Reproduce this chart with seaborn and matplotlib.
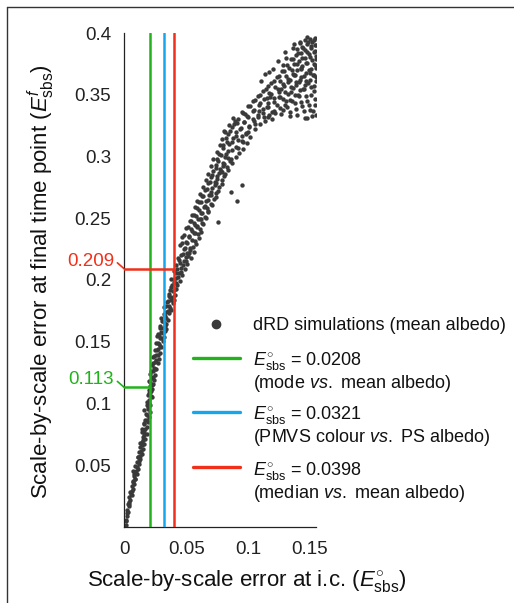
import matplotlib
matplotlib.use("Agg")
import matplotlib.pyplot as plt
from matplotlib.lines import Line2D
import pandas as pd
import seaborn as sns

sns.set_style("white")
plt.rcParams["font.family"] = ["Liberation Sans", "DejaVu Sans"]
plt.rcParams["mathtext.fontset"] = "custom"
plt.rcParams["mathtext.rm"] = "Liberation Sans"
plt.rcParams["mathtext.it"] = "Liberation Sans:italic"
plt.rcParams["mathtext.bf"] = "Liberation Sans:bold"

# dRD simulations, (error at i.c., error at final time point)
sim_xy = [
    (0.001, 0.002), (0.001, 0.006), (0.002, 0.009), (0.003, 0.012), (0.002, 0.014),
    (0.004, 0.017), (0.003, 0.019), (0.005, 0.022), (0.004, 0.024), (0.006, 0.026),
    (0.005, 0.028), (0.007, 0.031), (0.006, 0.033), (0.008, 0.035), (0.007, 0.037),
    (0.009, 0.039), (0.008, 0.041), (0.010, 0.043), (0.007, 0.045), (0.011, 0.047),
    (0.009, 0.049), (0.012, 0.051), (0.010, 0.053), (0.013, 0.055), (0.011, 0.057),
    (0.014, 0.059), (0.012, 0.061), (0.015, 0.063), (0.013, 0.065), (0.016, 0.067),
    (0.014, 0.069), (0.017, 0.071), (0.015, 0.073), (0.018, 0.075), (0.016, 0.077),
    (0.014, 0.079), (0.018, 0.081), (0.016, 0.083), (0.019, 0.085), (0.017, 0.087),
    (0.020, 0.089), (0.018, 0.091), (0.021, 0.093), (0.016, 0.095), (0.019, 0.097),
    (0.021, 0.099), (0.018, 0.101), (0.020, 0.103), (0.022, 0.105), (0.019, 0.107),
    (0.021, 0.109), (0.020, 0.111), (0.022, 0.112), (0.021, 0.114), (0.023, 0.116),
    (0.020, 0.118), (0.024, 0.119), (0.022, 0.121), (0.025, 0.123), (0.021, 0.124),
    (0.023, 0.126), (0.026, 0.128), (0.024, 0.129), (0.022, 0.131), (0.027, 0.133),
    (0.025, 0.134), (0.028, 0.136), (0.023, 0.138), (0.026, 0.139), (0.029, 0.141),
    (0.025, 0.143), (0.027, 0.144), (0.030, 0.146), (0.028, 0.148), (0.026, 0.149),
    (0.031, 0.151), (0.029, 0.153), (0.032, 0.154), (0.027, 0.156), (0.030, 0.158),
    (0.033, 0.159), (0.031, 0.161), (0.029, 0.163), (0.034, 0.164), (0.032, 0.166),
    (0.035, 0.168), (0.030, 0.169), (0.033, 0.171), (0.036, 0.173), (0.034, 0.174),
    (0.038, 0.176), (0.032, 0.178), (0.036, 0.179), (0.039, 0.181), (0.035, 0.183),
    (0.040, 0.184), (0.037, 0.186), (0.041, 0.188), (0.036, 0.189), (0.039, 0.191),
    (0.042, 0.193), (0.038, 0.194), (0.043, 0.196), (0.040, 0.198), (0.045, 0.199),
    (0.038, 0.201), (0.042, 0.202), (0.047, 0.204),
    (0.044, 0.206), (0.040, 0.207), (0.049, 0.209), (0.046, 0.210), (0.042, 0.212),
    (0.051, 0.213), (0.048, 0.215), (0.044, 0.216), (0.054, 0.218), (0.050, 0.219),
    (0.046, 0.220), (0.052, 0.222), (0.056, 0.223), (0.048, 0.225), (0.053, 0.226),
    (0.045, 0.228), (0.058, 0.229), (0.050, 0.231), (0.055, 0.232), (0.060, 0.234),
    (0.047, 0.235), (0.052, 0.236), (0.057, 0.238), (0.062, 0.239), (0.054, 0.241),
    (0.050, 0.242), (0.059, 0.243), (0.064, 0.245), (0.056, 0.246), (0.053, 0.248),
    (0.061, 0.249), (0.066, 0.250), (0.058, 0.252), (0.055, 0.253), (0.063, 0.254),
    (0.068, 0.256), (0.060, 0.257), (0.057, 0.259), (0.065, 0.260), (0.071, 0.261),
    (0.062, 0.263), (0.059, 0.264), (0.068, 0.265), (0.074, 0.267), (0.064, 0.268),
    (0.061, 0.270), (0.070, 0.271), (0.076, 0.272), (0.067, 0.274), (0.064, 0.275),
    (0.073, 0.277), (0.079, 0.278), (0.069, 0.279), (0.066, 0.281), (0.075, 0.282),
    (0.081, 0.284), (0.071, 0.285), (0.068, 0.286), (0.078, 0.288), (0.084, 0.289),
    (0.074, 0.291), (0.070, 0.292), (0.081, 0.294), (0.087, 0.295), (0.076, 0.296),
    (0.072, 0.298), (0.084, 0.299), (0.090, 0.300),
    (0.091, 0.264), (0.095, 0.277), (0.076, 0.247), (0.086, 0.298), (0.080, 0.292),
    (0.078, 0.301), (0.082, 0.302), (0.093, 0.303), (0.075, 0.304), (0.087, 0.305),
    (0.096, 0.306), (0.080, 0.307), (0.090, 0.308), (0.077, 0.309), (0.085, 0.310),
    (0.099, 0.311), (0.083, 0.312), (0.092, 0.313), (0.079, 0.314), (0.088, 0.315),
    (0.102, 0.316), (0.095, 0.317), (0.084, 0.318), (0.098, 0.319), (0.090, 0.320),
    (0.081, 0.321), (0.106, 0.322), (0.094, 0.323), (0.087, 0.324), (0.101, 0.325),
    (0.110, 0.326), (0.091, 0.327), (0.097, 0.328), (0.114, 0.329), (0.104, 0.330),
    (0.088, 0.331), (0.108, 0.332), (0.099, 0.333), (0.117, 0.334), (0.112, 0.335),
    (0.095, 0.336), (0.121, 0.337), (0.105, 0.338), (0.126, 0.339), (0.116, 0.340),
    (0.100, 0.341), (0.130, 0.342), (0.110, 0.343), (0.121, 0.344), (0.104, 0.345),
    (0.134, 0.346), (0.115, 0.347), (0.126, 0.348), (0.108, 0.349), (0.138, 0.350),
    (0.119, 0.351), (0.130, 0.352), (0.112, 0.353), (0.142, 0.354), (0.124, 0.355),
    (0.135, 0.356), (0.116, 0.357), (0.146, 0.358), (0.128, 0.359), (0.139, 0.360),
    (0.121, 0.361), (0.150, 0.362), (0.132, 0.363), (0.143, 0.364), (0.125, 0.365),
    (0.153, 0.366), (0.136, 0.367), (0.147, 0.368), (0.129, 0.369), (0.140, 0.370),
    (0.151, 0.371), (0.133, 0.372), (0.144, 0.373), (0.154, 0.374), (0.137, 0.375),
    (0.148, 0.376), (0.141, 0.377), (0.152, 0.378), (0.135, 0.379), (0.146, 0.380),
    (0.155, 0.381), (0.139, 0.382), (0.149, 0.383), (0.143, 0.384), (0.153, 0.385),
    (0.146, 0.386), (0.140, 0.387), (0.151, 0.388), (0.144, 0.389), (0.154, 0.390),
    (0.148, 0.391), (0.142, 0.392), (0.152, 0.393), (0.146, 0.394), (0.150, 0.395),
    (0.154, 0.396), (0.148, 0.397),
    (0.122, 0.335), (0.128, 0.338), (0.134, 0.336), (0.140, 0.334), (0.146, 0.331),
    (0.152, 0.333), (0.150, 0.338), (0.144, 0.341), (0.138, 0.343), (0.131, 0.345),
    (0.125, 0.348), (0.148, 0.345), (0.154, 0.342), (0.141, 0.349), (0.135, 0.352),
    (0.151, 0.350), (0.145, 0.355), (0.139, 0.358), (0.153, 0.357), (0.147, 0.361),
    (0.155, 0.364), (0.150, 0.368), (0.143, 0.372), (0.115, 0.340), (0.118, 0.348),
    (0.127, 0.355), (0.132, 0.360), (0.137, 0.366), (0.142, 0.362), (0.113, 0.332),
    (0.106, 0.326), (0.100, 0.320), (0.109, 0.337), (0.096, 0.312),
    (0.114, 0.367), (0.120, 0.371), (0.128, 0.374), (0.136, 0.388), (0.142, 0.393),
    (0.131, 0.380),
]

# second pass over the same cloud, filling the denser parts
sim_xy_more = [
    (0.0015, 0.0045), (0.0025, 0.0110), (0.0035, 0.0185), (0.0042, 0.0205), (0.0055, 0.0265),
    (0.0062, 0.0295), (0.0068, 0.0362), (0.0085, 0.0385), (0.0078, 0.0427), (0.0093, 0.0452),
    (0.0104, 0.0486), (0.0118, 0.0533), (0.0109, 0.0565), (0.0127, 0.0578), (0.0136, 0.0612),
    (0.0142, 0.0663), (0.0128, 0.0681), (0.0155, 0.0702), (0.0163, 0.0746), (0.0147, 0.0768),
    (0.0171, 0.0795), (0.0158, 0.0842), (0.0183, 0.0868), (0.0176, 0.0915), (0.0192, 0.0958),
    (0.0201, 0.1004), (0.0186, 0.0991), (0.0212, 0.1062), (0.0197, 0.1085),
    (0.0215, 0.1105), (0.0228, 0.1148), (0.0205, 0.1172), (0.0236, 0.1213), (0.0219, 0.1267),
    (0.0247, 0.1281), (0.0233, 0.1325), (0.0258, 0.1352), (0.0242, 0.1384), (0.0273, 0.1395),
    (0.0261, 0.1432), (0.0285, 0.1466), (0.0269, 0.1488), (0.0296, 0.1527), (0.0278, 0.1552),
    (0.0312, 0.1573), (0.0291, 0.1612), (0.0326, 0.1624), (0.0305, 0.1671), (0.0338, 0.1693),
    (0.0318, 0.1725), (0.0352, 0.1748), (0.0335, 0.1786), (0.0367, 0.1772), (0.0344, 0.1825),
    (0.0381, 0.1838), (0.0359, 0.1872), (0.0395, 0.1866), (0.0372, 0.1915), (0.0407, 0.1924),
    (0.0386, 0.1958), (0.0421, 0.1975), (0.0398, 0.2012), (0.0436, 0.2024), (0.0414, 0.2057),
    (0.0455, 0.2063), (0.0263, 0.1545), (0.0341, 0.1607),
    (0.0428, 0.2092), (0.0472, 0.2118), (0.0453, 0.2141), (0.0497, 0.2155), (0.0436, 0.2178),
    (0.0518, 0.2194), (0.0475, 0.2207), (0.0534, 0.2241), (0.0489, 0.2258), (0.0552, 0.2265),
    (0.0508, 0.2296), (0.0463, 0.2303), (0.0575, 0.2318), (0.0527, 0.2345), (0.0486, 0.2368),
    (0.0594, 0.2372), (0.0545, 0.2395), (0.0611, 0.2412), (0.0512, 0.2428), (0.0573, 0.2447),
    (0.0628, 0.2463), (0.0538, 0.2478), (0.0596, 0.2495), (0.0652, 0.2508), (0.0567, 0.2527),
    (0.0617, 0.2545), (0.0674, 0.2552), (0.0589, 0.2583), (0.0642, 0.2591), (0.0698, 0.2612),
    (0.0606, 0.2628), (0.0661, 0.2643), (0.0724, 0.2655), (0.0628, 0.2683), (0.0685, 0.2692),
    (0.0741, 0.2705), (0.0653, 0.2731), (0.0712, 0.2744), (0.0768, 0.2753), (0.0674, 0.2786),
    (0.0731, 0.2797), (0.0789, 0.2812), (0.0697, 0.2834), (0.0752, 0.2845), (0.0815, 0.2862),
    (0.0715, 0.2883), (0.0771, 0.2897), (0.0834, 0.2915), (0.0738, 0.2932), (0.0796, 0.2945),
    (0.0858, 0.2963), (0.0752, 0.2981), (0.0818, 0.2994), (0.0563, 0.2384), (0.0669, 0.2587),
    (0.0704, 0.2688), (0.0764, 0.2866), (0.0587, 0.2436), (0.0505, 0.2215), (0.0623, 0.2496),
    (0.0745, 0.2782), (0.0791, 0.2876), (0.0865, 0.2712),
    (0.0768, 0.3023), (0.0842, 0.3045), (0.0917, 0.3068), (0.0795, 0.3092), (0.0871, 0.3115),
    (0.0948, 0.3124), (0.0823, 0.3148), (0.0903, 0.3167), (0.0981, 0.3182), (0.0858, 0.3205),
    (0.0935, 0.3221), (0.1012, 0.3238), (0.0886, 0.3262), (0.0967, 0.3276), (0.1047, 0.3291),
    (0.0921, 0.3307), (0.1003, 0.3318), (0.1085, 0.3335), (0.1158, 0.3322), (0.0962, 0.3356),
    (0.1042, 0.3371), (0.1124, 0.3384), (0.1196, 0.3362), (0.1265, 0.3347), (0.1018, 0.3412),
    (0.1087, 0.3421), (0.1163, 0.3433), (0.1237, 0.3418), (0.1312, 0.3402), (0.1385, 0.3386),
    (0.1452, 0.3365), (0.1528, 0.3372), (0.1056, 0.3457), (0.1132, 0.3468), (0.1208, 0.3475),
    (0.1283, 0.3462), (0.1357, 0.3447), (0.1426, 0.3438), (0.1497, 0.3421), (0.1545, 0.3465),
    (0.1098, 0.3502), (0.1174, 0.3515), (0.1251, 0.3522), (0.1326, 0.3508), (0.1401, 0.3496),
    (0.1473, 0.3487), (0.1536, 0.3528), (0.1142, 0.3548), (0.1219, 0.3562), (0.1295, 0.3571),
    (0.1368, 0.3556), (0.1442, 0.3545), (0.1511, 0.3563), (0.1187, 0.3596), (0.1262, 0.3608),
    (0.1337, 0.3617), (0.1412, 0.3602), (0.1483, 0.3594), (0.1547, 0.3612), (0.1234, 0.3643),
    (0.1307, 0.3655), (0.1381, 0.3661), (0.1455, 0.3648), (0.1522, 0.3656), (0.1277, 0.3692),
    (0.1352, 0.3703), (0.1425, 0.3711), (0.1496, 0.3697), (0.1549, 0.3718), (0.1318, 0.3741),
    (0.1394, 0.3752), (0.1466, 0.3758), (0.1531, 0.3746), (0.1362, 0.3788), (0.1437, 0.3797),
    (0.1503, 0.3805), (0.1552, 0.3792), (0.1405, 0.3836), (0.1476, 0.3843), (0.1538, 0.3851),
    (0.1447, 0.3882), (0.1512, 0.3891), (0.1548, 0.3903), (0.1489, 0.3927), (0.1532, 0.3945),
    (0.1193, 0.3307), (0.1342, 0.3328), (0.1478, 0.3315), (0.1551, 0.3334),
    (0.1102, 0.3612), (0.1167, 0.3684), (0.1245, 0.3776), (0.1303, 0.3845), (0.1372, 0.3912),
    (0.0812, 0.3198), (0.0893, 0.3284), (0.0978, 0.3341), (0.0845, 0.3257),
]

ic_errors = [0.0208, 0.0321, 0.0398]
ic_colors = ["#22b21c", "#16a6ee", "#f0301a"]
ic_notes = ["(mode $\\mathit{vs.}$ mean albedo)",
            "(PMVS colour $\\mathit{vs.}$ PS albedo)",
            "(median $\\mathit{vs.}$ mean albedo)"]

# final-time errors read where the dRD cloud crosses two of the lines
mark_x = [0.0208, 0.0398]
mark_y = [0.113, 0.209]
mark_labels = ["0.113", "0.209"]
mark_colors = ["#22b21c", "#f0301a"]

xticks = [0, 0.05, 0.1, 0.15]
xtick_labels = ["0", "0.05", "0.1", "0.15"]
yticks = [0.05, 0.1, 0.15, 0.2, 0.25, 0.3, 0.35, 0.4]
ytick_labels = ["0.05", "0.1", "0.15", "0.2", "0.25", "0.3", "0.35", "0.4"]

df = pd.DataFrame(sim_xy + sim_xy_more, columns=["ic", "final"])

W, H = 514, 603
fig = plt.figure(figsize=(W / 100, H / 100), dpi=100)
ax = fig.add_axes([124.3 / W, 1 - 527 / H, 191.7 / W, 494 / H])

sns.scatterplot(data=df, x="ic", y="final", ax=ax, s=10, color="#3a3a3a",
                linewidth=0, legend=False, zorder=2)

for xv, c in zip(ic_errors, ic_colors):
    ax.plot([xv, xv], [0, 0.4], color=c, lw=1.8, zorder=3)

for xv, yv, lab, c in zip(mark_x, mark_y, mark_labels, mark_colors):
    ax.plot([0, xv], [yv, yv], color=c, lw=1.8, zorder=3)
    ax.plot([-0.0056, 0], [yv + 0.0049, yv], color=c, lw=1.2, clip_on=False)
    ax.text(-0.0083, yv + 0.0062, lab, color=c, fontsize=13.5,
            ha="right", va="center", clip_on=False)

ax.set_xlim(0, 0.155)
ax.set_ylim(0, 0.4)
ax.set_xticks(xticks)
ax.set_xticklabels(xtick_labels)
ax.set_yticks(yticks)
ax.set_yticklabels(ytick_labels)
ax.set_xlabel("")
ax.set_ylabel("")
sns.despine(ax=ax)
for sp in ["left", "bottom"]:
    ax.spines[sp].set_color("#222222")
    ax.spines[sp].set_linewidth(0.9)
ax.tick_params(axis="both", direction="in", length=4, width=0.9,
               colors="#222222", labelsize=13.5)
ax.tick_params(axis="y", pad=9.5)
ax.tick_params(axis="x", pad=10)

fig.text(246.5 / W, 1 - 581 / H,
         "Scale-by-scale error at i.c. ($E^{\\circ}_{\\mathrm{sbs}}$)",
         ha="center", va="center", fontsize=16, color="#111111")
fig.text(41 / W, 1 - 282 / H,
         "Scale-by-scale error at final time point ($E^{f}_{\\mathrm{sbs}}$)",
         ha="center", va="center", rotation=90, fontsize=16, color="#111111")

# legend, drawn by hand so each handle sits on its first text line
def fx(px):
    return px / W


def fy(py):
    return 1 - py / H


fig.add_artist(Line2D([fx(216)], [fy(324)], marker="o", markersize=6,
                      color="#3a3a3a", linestyle="none"))
fig.text(fx(253), fy(324), "dRD simulations (mean albedo)", fontsize=13,
         ha="left", va="center_baseline", color="#111111")
row_y = [358, 412, 467]
for xv, c, note, ry in zip(ic_errors, ic_colors, ic_notes, row_y):
    fig.add_artist(Line2D([fx(193), fx(240)], [fy(ry), fy(ry)], color=c, lw=2.4))
    fig.text(fx(253), fy(ry), "$E^{\\circ}_{\\mathrm{sbs}}$ = %.4f" % xv,
             fontsize=13, ha="left", va="center_baseline", color="#111111")
    fig.text(fx(253), fy(ry + 23), note, fontsize=13, ha="left",
             va="center_baseline", color="#111111")

# panel frame (top and left edges)
fig.add_artist(Line2D([fx(7), fx(514)], [fy(6.5), fy(6.5)], color="#333333", lw=1))
fig.add_artist(Line2D([fx(7), fx(7)], [fy(6.5), fy(603)], color="#333333", lw=1))

fig.savefig("out.png", dpi=100)
